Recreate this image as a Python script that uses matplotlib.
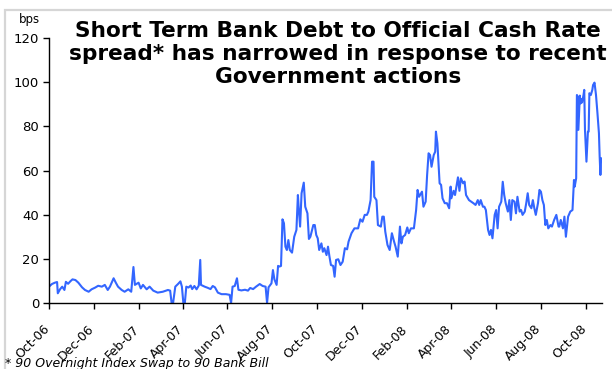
import matplotlib
matplotlib.use("Agg")
import matplotlib.pyplot as plt
import matplotlib.dates as mdates
import matplotlib.transforms as mtransforms
from matplotlib.patches import Rectangle
import pandas as pd

# Spread of 90-day bank bill over 90-day OIS, basis points
dates = [
    # Oct-06 .. Mar-07
    "2006-10-02", "2006-10-05", "2006-10-09", "2006-10-12", "2006-10-13", "2006-10-16",
    "2006-10-19", "2006-10-22", "2006-10-24", "2006-10-27", "2006-10-30", "2006-11-02",
    "2006-11-06", "2006-11-10", "2006-11-15", "2006-11-19", "2006-11-24", "2006-11-28",
    "2006-12-03", "2006-12-07", "2006-12-12", "2006-12-16", "2006-12-20", "2006-12-23",
    "2006-12-28", "2006-12-31", "2007-01-03", "2007-01-08", "2007-01-12", "2007-01-17",
    "2007-01-21", "2007-01-24", "2007-01-26", "2007-01-31", "2007-02-03", "2007-02-06",
    "2007-02-11", "2007-02-15", "2007-02-20", "2007-02-26", "2007-03-05", "2007-03-12",
    "2007-03-15", "2007-03-17", "2007-03-19", "2007-03-22", "2007-03-26", "2007-03-29",
    "2007-03-31",
    # Apr-07 .. Sep-07
    "2007-04-02", "2007-04-04", "2007-04-06", "2007-04-09", "2007-04-12", "2007-04-14",
    "2007-04-17", "2007-04-20", "2007-04-23", "2007-04-25", "2007-04-26", "2007-05-01",
    "2007-05-05", "2007-05-09", "2007-05-12", "2007-05-15", "2007-05-19", "2007-05-24",
    "2007-05-30", "2007-06-04", "2007-06-06", "2007-06-08", "2007-06-11", "2007-06-14",
    "2007-06-16", "2007-06-20", "2007-06-25", "2007-06-29", "2007-07-02", "2007-07-06",
    "2007-07-10", "2007-07-15", "2007-07-19", "2007-07-23", "2007-07-25", "2007-07-27",
    "2007-07-31", "2007-08-02", "2007-08-04", "2007-08-07", "2007-08-09", "2007-08-11",
    "2007-08-13", "2007-08-15", "2007-08-17", "2007-08-19", "2007-08-21", "2007-08-23",
    "2007-08-25", "2007-08-28", "2007-08-31", "2007-09-03", "2007-09-05", "2007-09-06",
    "2007-09-08", "2007-09-10", "2007-09-13", "2007-09-15", "2007-09-18", "2007-09-20",
    "2007-09-22", "2007-09-26", "2007-09-28", "2007-09-30",
    # Oct-07 .. Mar-08
    "2007-10-02", "2007-10-04", "2007-10-07", "2007-10-09", "2007-10-11", "2007-10-14",
    "2007-10-16", "2007-10-18", "2007-10-20", "2007-10-23", "2007-10-25", "2007-10-27",
    "2007-10-30", "2007-11-02", "2007-11-05", "2007-11-08", "2007-11-11", "2007-11-13",
    "2007-11-17", "2007-11-21", "2007-11-26", "2007-11-29", "2007-12-02", "2007-12-05",
    "2007-12-08", "2007-12-10", "2007-12-13", "2007-12-15", "2007-12-17", "2007-12-18",
    "2007-12-21", "2007-12-23", "2007-12-27", "2007-12-29", "2007-12-31", "2008-01-02",
    "2008-01-05", "2008-01-08", "2008-01-11", "2008-01-14", "2008-01-16", "2008-01-19",
    "2008-01-22", "2008-01-24", "2008-01-26", "2008-01-29", "2008-02-01", "2008-02-03",
    "2008-02-06", "2008-02-10", "2008-02-13", "2008-02-15", "2008-02-17", "2008-02-21",
    "2008-02-23", "2008-02-26", "2008-02-28", "2008-03-01", "2008-03-03", "2008-03-05",
    "2008-03-08", "2008-03-10", "2008-03-11", "2008-03-13", "2008-03-16", "2008-03-18",
    "2008-03-20", "2008-03-23", "2008-03-26", "2008-03-29",
    # Apr-08 .. Aug-08
    "2008-03-31", "2008-04-01", "2008-04-04", "2008-04-06", "2008-04-10", "2008-04-12",
    "2008-04-14", "2008-04-17", "2008-04-19", "2008-04-21", "2008-04-25", "2008-04-28",
    "2008-05-01", "2008-05-04", "2008-05-07", "2008-05-09", "2008-05-11", "2008-05-14",
    "2008-05-16", "2008-05-18", "2008-05-21", "2008-05-23", "2008-05-25", "2008-05-27",
    "2008-05-30", "2008-06-01", "2008-06-03", "2008-06-05", "2008-06-08", "2008-06-10",
    "2008-06-12", "2008-06-14", "2008-06-17", "2008-06-19", "2008-06-21", "2008-06-23",
    "2008-06-26", "2008-06-28", "2008-06-30", "2008-07-03", "2008-07-05", "2008-07-07",
    "2008-07-10", "2008-07-12", "2008-07-14", "2008-07-16", "2008-07-19", "2008-07-21",
    "2008-07-23", "2008-07-25", "2008-07-28", "2008-07-30", "2008-08-01", "2008-08-03",
    "2008-08-05", "2008-08-07", "2008-08-09", "2008-08-11", "2008-08-14", "2008-08-16",
    "2008-08-19", "2008-08-22", "2008-08-25",
    # late Aug-08 .. Oct-08
    "2008-08-26", "2008-08-28", "2008-08-31", "2008-09-02", "2008-09-04", "2008-09-07",
    "2008-09-10", "2008-09-13", "2008-09-15", "2008-09-16", "2008-09-18", "2008-09-19",
    "2008-09-20", "2008-09-21", "2008-09-23", "2008-09-24", "2008-09-25", "2008-09-26",
    "2008-09-28", "2008-09-29", "2008-09-30", "2008-10-02", "2008-10-04", "2008-10-05",
    "2008-10-06", "2008-10-08", "2008-10-10", "2008-10-11", "2008-10-13", "2008-10-15",
    "2008-10-17", "2008-10-19", "2008-10-20", "2008-10-21", "2008-10-22",
]

spread_bps = [
    # Oct-06 .. Mar-07
    7.7, 8.6, 9.2, 9.5, 4.4, 6.2,
    7.4, 5.9, 9.6, 8.7, 9.8, 10.7,
    10.4, 9.2, 7.1, 5.9, 5.1, 6.2,
    7.0, 7.8, 7.4, 8.2, 5.9, 7.4,
    11.2, 9.2, 7.4, 5.9, 5.1, 6.2,
    5.1, 16.3, 8.2, 9.2, 6.6, 8.2,
    6.2, 7.4, 5.6, 4.7, 5.1, 5.9,
    5.6, 0.0, 0.0, 7.4, 8.7, 9.8,
    7.4,
    # Apr-07 .. Sep-07
    0.0, 0.0, 7.4, 7.0, 7.9, 6.3,
    7.7, 6.2, 7.9, 19.5, 8.2, 7.4,
    6.9, 6.3, 7.7, 7.1, 4.7, 4.0,
    4.0, 3.7, 0.0, 7.4, 7.7, 11.2,
    6.0, 5.7, 6.0, 5.6, 6.8, 6.3,
    7.4, 8.6, 7.7, 7.4, 0.0, 7.1,
    8.9, 14.9, 10.7, 8.2, 16.8, 16.5,
    16.8, 37.9, 36.1, 25.5, 24.0, 28.5,
    24.0, 22.8, 30.0, 33.1, 48.9, 43.6,
    34.6, 49.7, 54.5, 43.6, 40.6, 29.0,
    30.0, 35.3, 35.3, 30.8,
    # Oct-07 .. Mar-08
    29.3, 24.0, 27.0, 23.2, 24.8, 21.7,
    25.5, 21.0, 17.2, 16.8, 11.9, 19.5,
    19.8, 17.2, 18.7, 24.8, 24.3, 27.8,
    31.6, 33.8, 33.8, 37.9, 36.8, 39.9,
    39.9, 41.4, 46.6, 64.0, 64.0, 48.1,
    46.6, 35.3, 34.6, 39.1, 39.1, 32.3,
    26.3, 24.0, 31.6, 27.8, 25.5, 21.0,
    34.6, 27.0, 30.0, 30.8, 34.2, 31.6,
    33.8, 33.8, 42.1, 51.2, 48.1, 50.4,
    43.6, 45.9, 58.0, 67.8, 67.0, 61.7,
    67.0, 68.5, 77.6, 72.3, 54.2, 53.5,
    47.4, 45.2, 45.2, 42.9,
    # Apr-08 .. Aug-08
    52.7, 47.4, 50.8, 48.9, 56.9, 50.8,
    56.5, 54.2, 55.0, 48.9, 46.6, 45.9,
    45.2, 44.4, 46.6, 44.4, 46.6, 43.6,
    43.6, 42.1, 33.1, 30.8, 33.1, 29.3,
    39.9, 42.1, 33.8, 43.6, 45.9, 54.9,
    48.9, 45.2, 41.4, 46.6, 37.6, 46.6,
    45.9, 40.6, 48.1, 41.4, 42.1, 39.9,
    41.4, 45.2, 49.7, 44.4, 42.9, 46.6,
    42.9, 39.9, 45.2, 51.2, 50.4, 46.6,
    44.4, 35.3, 37.6, 33.8, 35.3, 34.6,
    37.6, 39.9, 34.6,
    # late Aug-08 .. Oct-08
    34.6, 37.6, 33.8, 39.1, 30.0, 39.1,
    41.4, 42.1, 55.7, 52.7, 56.5, 94.2,
    93.5, 78.4, 93.9, 90.4, 92.3, 90.8,
    94.2, 96.5, 78.4, 64.0, 77.6, 77.6,
    95.0, 94.2, 96.5, 98.7, 99.8, 94.2,
    85.9, 76.9, 66.3, 58.0, 65.5,
]

y_ticks = [0, 20, 40, 60, 80, 100, 120]
x_start, x_end = "2006-10-01", "2008-10-22 12:00"

title_text = ("Short Term Bank Debt to Official Cash Rate\n"
              "spread* has narrowed in response to recent\n"
              "Government actions")
unit_text = "bps"
note_text = "* 90 Overnight Index Swap to 90 Bank Bill"

W, H = 612, 369
fig = plt.figure(figsize=(W / 100, H / 100), dpi=100)
fig.patch.set_facecolor("white")

# light slide frame along top and left
fig.patches.append(Rectangle((5 / W, -0.2), 2.0, 1.2 - 10 / H, transform=fig.transFigure,
                             fill=False, edgecolor="#d6d6d6", linewidth=1.6))

ax = fig.add_axes([49 / W, 1 - 303 / H, (601.5 - 49) / W, (303 - 38) / H])
x = pd.to_datetime(dates)
ax.plot(x, spread_bps, color="#3366ff", linewidth=1.5, solid_joinstyle="round")

ax.set_ylim(0, 120)
ax.set_yticks(y_ticks)
ax.set_xlim(pd.Timestamp(x_start), pd.Timestamp(x_end))
ax.xaxis.set_major_locator(mdates.MonthLocator(bymonth=[2, 4, 6, 8, 10, 12]))
ax.xaxis.set_major_formatter(mdates.DateFormatter("%b-%y"))

for s in ("top", "right"):
    ax.spines[s].set_visible(False)
for s in ("left", "bottom"):
    ax.spines[s].set_linewidth(1.0)
    ax.spines[s].set_color("black")

ax.tick_params(axis="both", direction="out", length=4, width=1.0, colors="black")
ax.tick_params(axis="y", pad=3, labelsize=9.5)
ax.tick_params(axis="x", labelsize=9)

# rotated date labels sit a little below and left of their ticks
shift = mtransforms.ScaledTranslation(-6 / 100, -9 / 100, fig.dpi_scale_trans)
for lbl in ax.get_xticklabels():
    lbl.set_rotation(45)
    lbl.set_ha("right")
    lbl.set_va("top")
    lbl.set_rotation_mode("anchor")
    lbl.set_transform(lbl.get_transform() + shift)

fig.text(338 / W, 1 - 21 / H, title_text, ha="center", va="top", fontsize=15.6,
         fontweight="bold", linespacing=1.2, multialignment="center")
fig.text(29 / W, 1 - 19 / H, unit_text, ha="center", va="center", fontsize=8.5)
fig.text(5 / W, 1 - 357 / H, note_text, ha="left", va="top", fontsize=9,
         style="italic")

fig.savefig("out.png", dpi=100)
